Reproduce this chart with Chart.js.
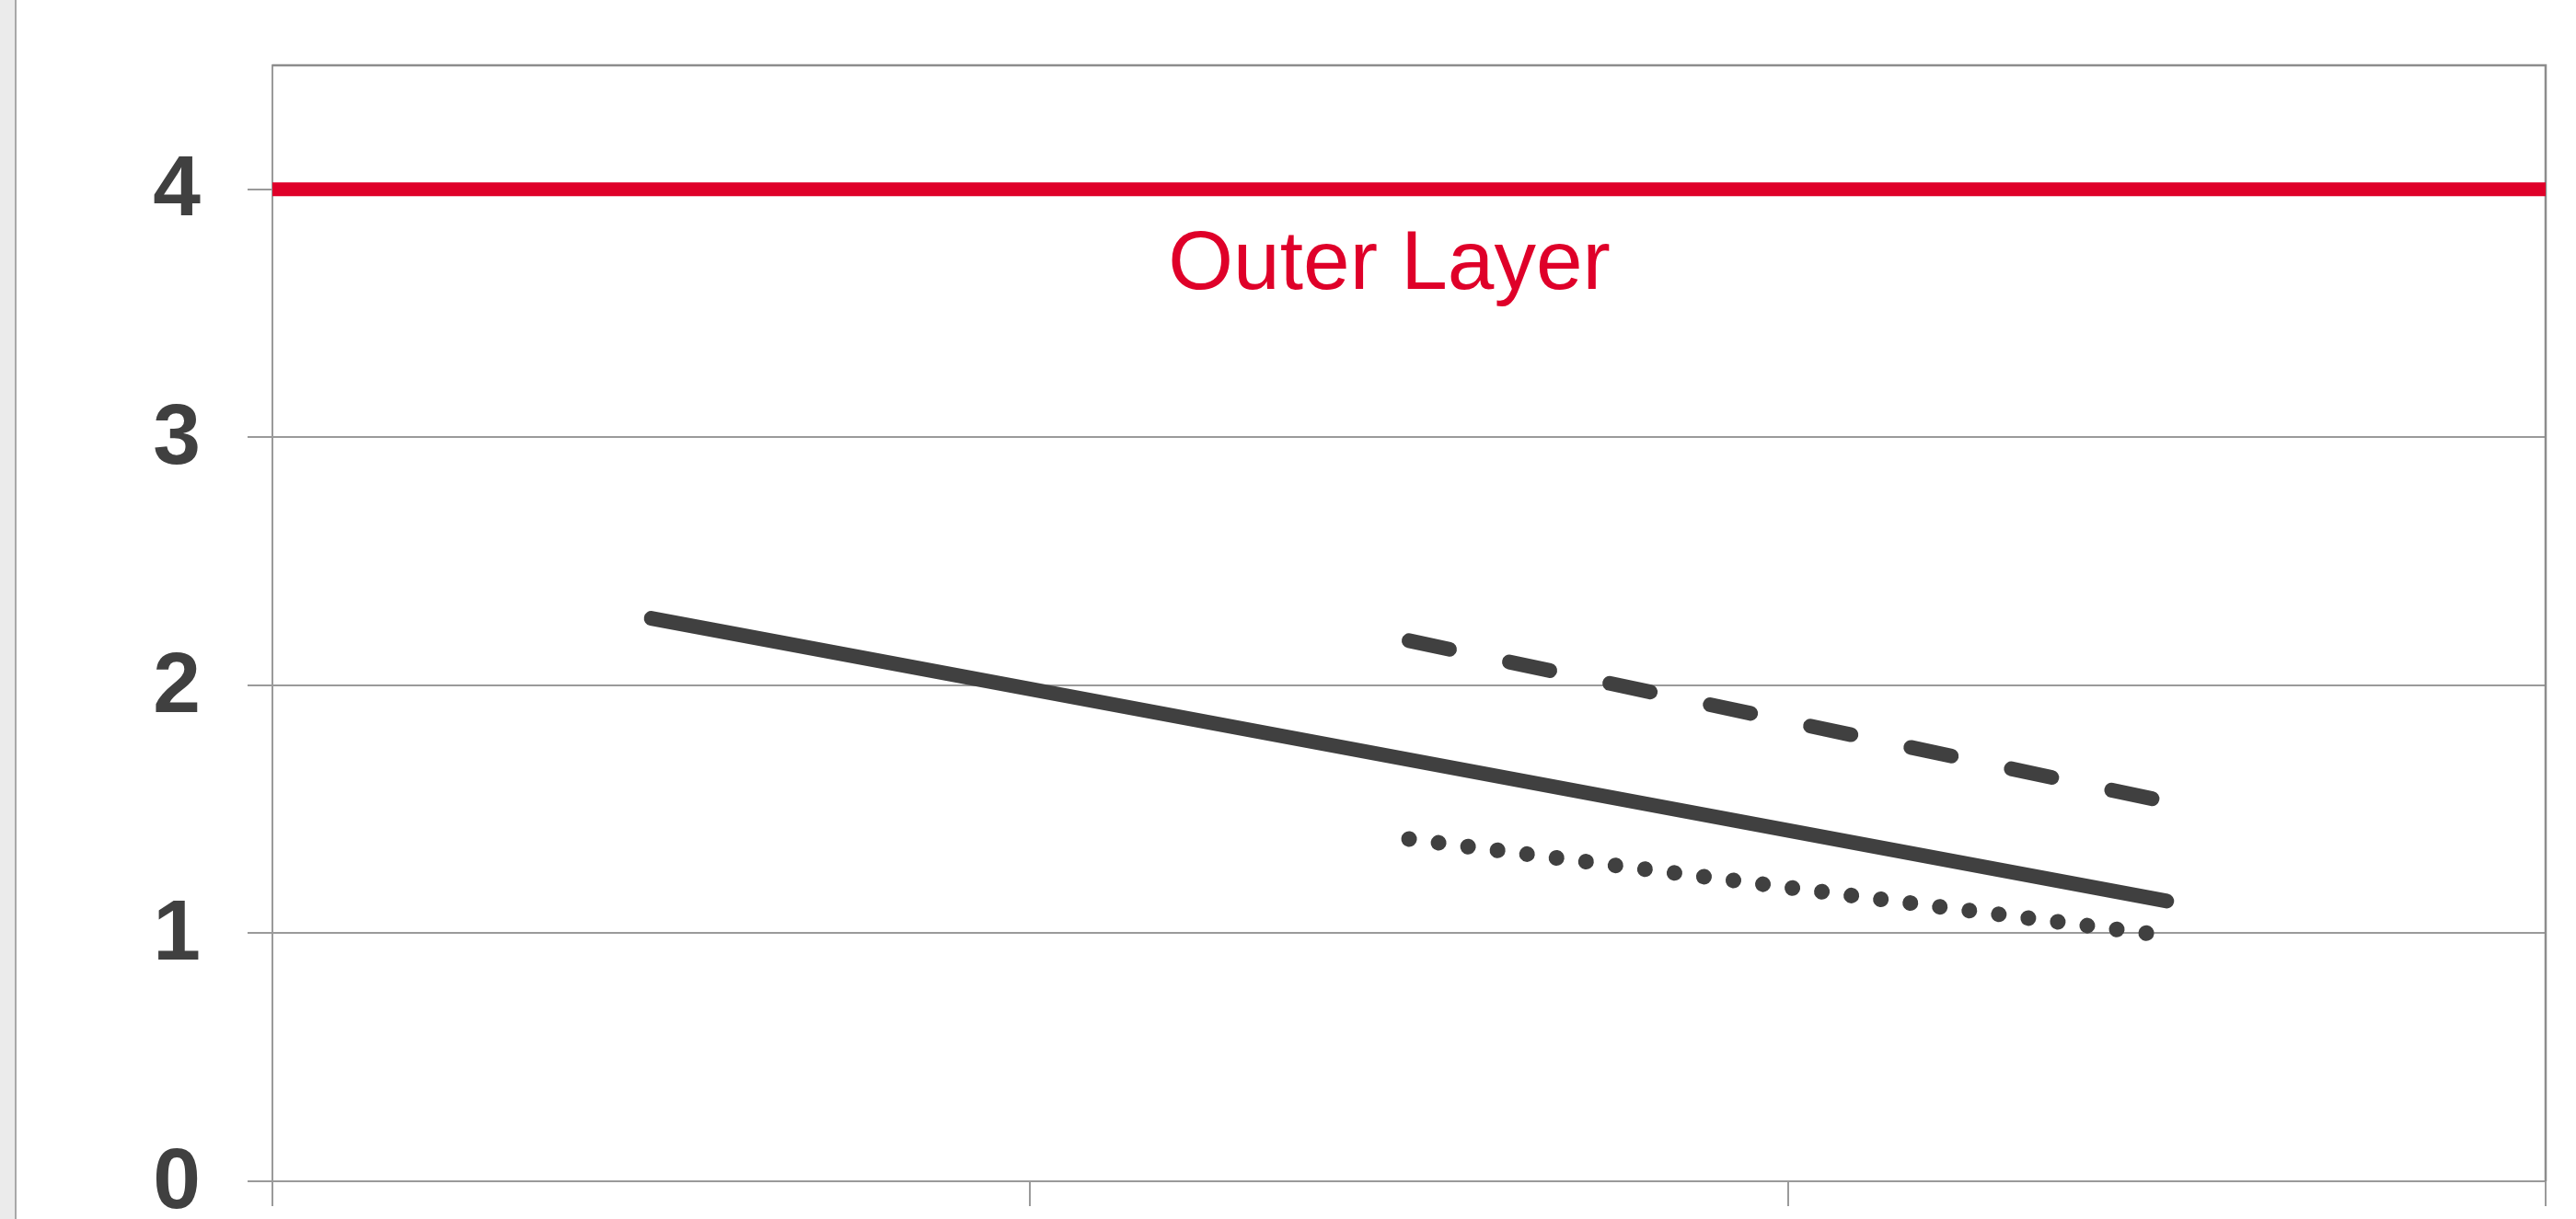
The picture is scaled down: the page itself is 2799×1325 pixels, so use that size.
<!DOCTYPE html>
<html><head><meta charset="utf-8">
<script src="https://cdn.jsdelivr.net/npm/chart.js@4.4.1/dist/chart.umd.min.js"></script>
<style>
html,body{margin:0;padding:0;background:#fff;overflow:hidden;}
#strip{position:absolute;left:0;top:0;width:16px;height:1325px;background:#ebebeb;border-right:2px solid #a8a8a8;}
#wrap{position:absolute;left:0;top:0;width:2799px;height:1325px;}
</style></head><body>
<div id="strip"></div>
<div id="wrap"><canvas id="c" width="2799" height="1325"></canvas></div>
<script>
// ---- data ----
const xPositions = [0.5, 1.5, 2.5];
const solidValues = [2.27, 1.70, 1.13];
const dashedValues = [null, 2.18, 1.53];
const dottedValues = [null, 1.38, 0.99];
const outerLayerX = [0, 3];
const outerLayerY = [4, 4];
const yTickValues = [0, 1, 2, 3, 4];
const xTickValues = [0, 1, 2, 3];
const outerLayerLabel = 'Outer Layer';
const outerLabelX = 1.474;
const outerLabelY = 3.6;

const DARK = '#404040';
const RED = '#DF0029';
const GRID = '#9a9a9a';

function pts(xs, ys) { return xs.map((x, i) => ({x: x, y: ys[i]})); }

const framePlugin = {
  id: 'frame',
  beforeDatasetsDraw(chart) {
    const {ctx, chartArea: a} = chart;
    ctx.save();
    ctx.strokeStyle = '#8c8c8c';
    ctx.lineWidth = 2.5;
    ctx.beginPath();
    ctx.moveTo(a.left, a.top);
    ctx.lineTo(a.right, a.top);
    ctx.lineTo(a.right, a.bottom);
    ctx.stroke();
    ctx.restore();
  }
};
const labelPlugin = {
  id: 'outerLabel',
  afterDatasetsDraw(chart) {
    const {ctx, scales} = chart;
    ctx.save();
    ctx.font = '91px "Liberation Sans", Arial, sans-serif';
    ctx.fillStyle = RED;
    ctx.textAlign = 'center';
    ctx.textBaseline = 'alphabetic';
    ctx.fillText(outerLayerLabel, scales.x.getPixelForValue(outerLabelX), scales.y.getPixelForValue(outerLabelY));
    ctx.restore();
  }
};

new Chart(document.getElementById('c'), {
  type: 'line',
  data: {
    datasets: [
      {label: 'Outer Layer', data: pts(outerLayerX, outerLayerY), borderColor: RED, borderWidth: 15, pointRadius: 0, borderCapStyle: 'butt'},
      {label: 'solid', data: pts(xPositions, solidValues), borderColor: DARK, borderWidth: 16, pointRadius: 0, borderCapStyle: 'round'},
      {label: 'dashed', data: pts(xPositions, dashedValues), borderColor: DARK, borderWidth: 16, pointRadius: 0, borderCapStyle: 'round', borderDash: [45, 66.5]},
      {label: 'dotted', data: pts(xPositions, dottedValues), borderColor: DARK, borderWidth: 17, pointRadius: 0, borderCapStyle: 'round', borderDash: [0.1, 32.2]}
    ]
  },
  options: {
    responsive: false,
    animation: false,
    devicePixelRatio: 1,
    layout: {padding: {top: 71, right: 33, bottom: 0, left: 0}},
    plugins: {legend: {display: false}, tooltip: {enabled: false}},
    scales: {
      x: {
        type: 'linear', min: 0, max: 3,
        afterBuildTicks: s => { s.ticks = xTickValues.map(v => ({value: v})); },
        afterFit: s => { s.height = 41; s.paddingLeft = 0; s.paddingRight = 0; },
        ticks: {display: false},
        grid: {display: true, drawOnChartArea: false, drawTicks: true, tickLength: 27, color: GRID, lineWidth: 2},
        border: {display: true, color: GRID, width: 2}
      },
      y: {
        type: 'linear', min: 0, max: 4.5,
        afterBuildTicks: s => { s.ticks = yTickValues.map(v => ({value: v})); },
        afterFit: s => { s.width = 296; s.paddingTop = 0; s.paddingBottom = 0; },
        ticks: {color: DARK, padding: 51, labelOffset: 3, font: {family: '"Liberation Sans", Arial, sans-serif', size: 93, weight: 'bold'}},
        grid: {color: GRID, lineWidth: 2, drawTicks: true, tickLength: 27},
        border: {display: true, color: GRID, width: 2}
      }
    }
  },
  plugins: [framePlugin, labelPlugin]
});
</script>
</body></html>
